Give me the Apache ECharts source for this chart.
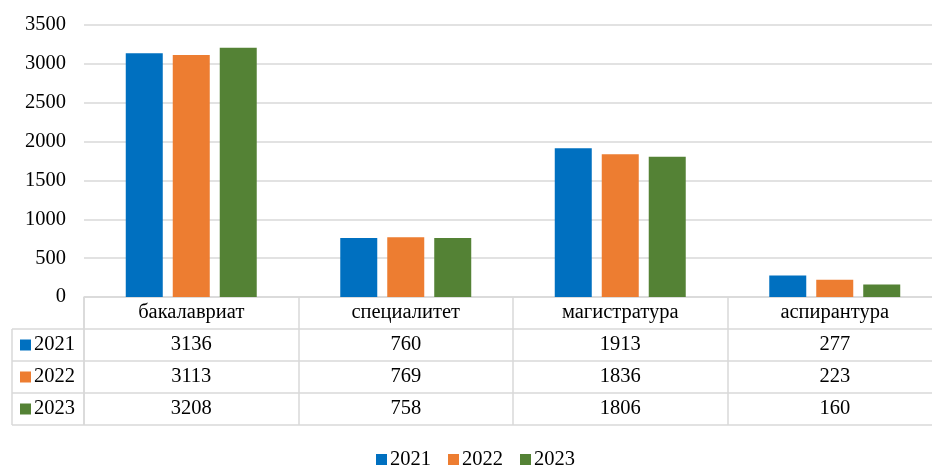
<!DOCTYPE html>
<html>
<head>
<meta charset="utf-8">
<script src="https://cdn.jsdelivr.net/npm/echarts@6/dist/echarts.min.js"></script>
<style>
  html, body { margin: 0; padding: 0; background: #fff; overflow: hidden; }
  #chart { width: 942px; height: 466px; }
</style>
</head>
<body>
<div id="chart"></div>
<script>
const categories = ['бакалавриат', 'специалитет', 'магистратура', 'аспирантура'];
const years = ['2021', '2022', '2023'];
const values2021 = [3136, 760, 1913, 277];
const values2022 = [3113, 769, 1836, 223];
const values2023 = [3208, 758, 1806, 160];
const yTicks = { min: 0, max: 3500, interval: 500 };

const colors = ['#0070C0', '#ED7D31', '#548235'];
const seriesValues = [values2021, values2022, values2023];
const font = 'Times New Roman';
const fontSize = 20.5;
const lineColor = '#d9d9d9';

const chart = echarts.init(document.getElementById('chart'));

// rows of the data table under the axis
const tableTop = 297, rowH = 32, tableLeft = 12, axisLeft = 84;
const hLines = [1, 2, 3, 4].map(i => ({
  type: 'line',
  shape: { x1: tableLeft, y1: tableTop + rowH * i, x2: 942, y2: tableTop + rowH * i },
  style: { stroke: lineColor, lineWidth: 1.5 }
}));
hLines.push({
  type: 'line',
  shape: { x1: tableLeft, y1: tableTop + rowH, x2: tableLeft, y2: tableTop + rowH * 4 },
  style: { stroke: lineColor, lineWidth: 1.5 }
});
hLines.push({
  type: 'line',
  shape: { x1: axisLeft, y1: tableTop, x2: axisLeft, y2: tableTop + rowH * 4 },
  style: { stroke: lineColor, lineWidth: 1.5 }
});

chart.setOption({
  animation: false,
  color: colors,
  textStyle: { fontFamily: font },
  grid: { left: axisLeft, right: 0, top: 25, bottom: 466 - tableTop, containLabel: false },
  legend: [
    {
      data: years,
      top: 444,
      left: 371,
      icon: 'rect',
      itemWidth: 11,
      itemHeight: 11,
      itemGap: 17,
      textStyle: { fontFamily: font, fontSize: fontSize, color: '#000', padding: [0, 0, 0, -2] },
      selectedMode: false
    },
    {
      data: years,
      orient: 'vertical',
      left: 20,
      top: tableTop + rowH,
      padding: 0,
      icon: 'rect',
      itemWidth: 11,
      itemHeight: 11,
      itemGap: 0,
      textStyle: { fontFamily: font, fontSize: fontSize, color: '#000', lineHeight: rowH, padding: [0, 0, 0, -2] },
      selectedMode: false
    }
  ],
  xAxis: {
    type: 'category',
    data: categories,
    axisLine: { lineStyle: { color: lineColor, width: 1.5 } },
    axisTick: { show: true, length: rowH * 4, lineStyle: { color: lineColor, width: 1.5 } },
    axisLabel: {
      margin: 0,
      fontFamily: font,
      fontSize: fontSize,
      color: '#000',
      lineHeight: rowH,
      formatter: (v, i) => [v].concat(seriesValues.map(s => s[i])).join('\n')
    }
  },
  yAxis: {
    type: 'value',
    min: yTicks.min,
    max: yTicks.max,
    interval: yTicks.interval,
    axisLine: { show: false },
    axisTick: { show: false },
    axisLabel: { fontFamily: font, fontSize: fontSize, color: '#000', margin: 18, formatter: v => String(v) },
    splitLine: { lineStyle: { color: lineColor, width: 1.5 } }
  },
  series: years.map((y, k) => ({
    name: y,
    type: 'bar',
    data: seriesValues[k],
    barWidth: 37,
    barGap: '27%',
    itemStyle: { color: colors[k] }
  })),
  graphic: hLines
});
</script>
</body>
</html>
